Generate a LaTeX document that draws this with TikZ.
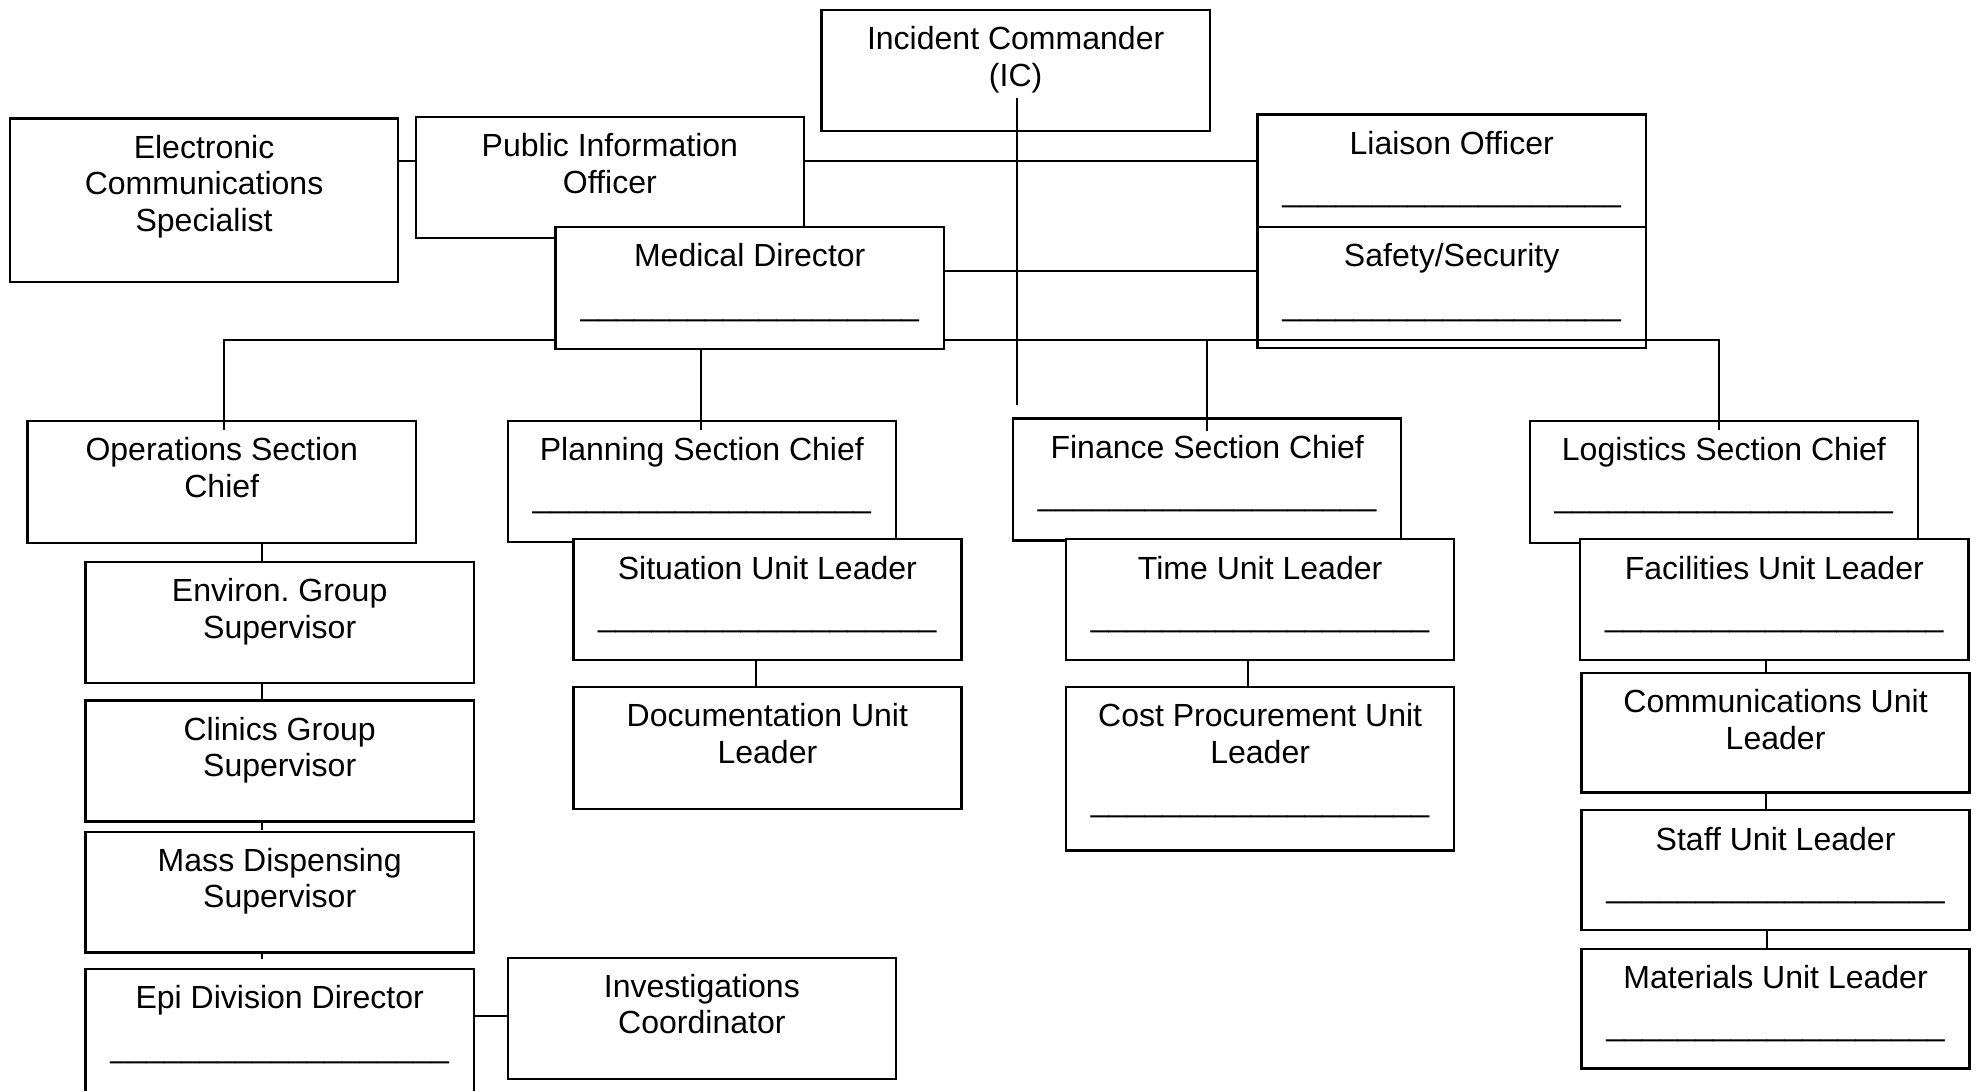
\documentclass[tikz,border=0pt]{standalone}
\usepackage{fontspec}
\setmainfont{Liberation Sans}
\usetikzlibrary{calc}
\frenchspacing

\tikzset{
  orgbox/.style={draw, fill=white, line width=0.9pt, minimum width=147.84pt,
                 inner sep=0pt, anchor=north west},
  wire/.style={line width=0.75pt},
  lbl/.style={anchor=base, inner sep=0pt, font=\fontsize{12.2}{13.9}\selectfont},
}

% blank line for a name to be written in
\newcommand\nameline{\_\_\_\_\_\_\_\_\_\_\_\_\_\_\_\_\_\_\_}

% box with its title set at the top: name, left, top, height, title
\newcommand\orgunit[5]{%
  \node[orgbox, minimum height=#4*0.48pt] (#1) at (#2,#3) {};
  \node[lbl] (#1-t) at ($(#1.north)+(0,32.5)$) {\parbox[t]{145pt}{\centering #5}};
}
% blank name line inside a box: name, offset of its baseline below the top
\newcommand\orgline[2]{%
  \node[lbl] (#1-u) at ($(#1.north)+(0,#2)$) {\nameline};
}

\begin{document}
\begin{tikzpicture}[x=0.48pt, y=-0.48pt]
\useasboundingbox (0,0) rectangle (1568,865);
\clip (0,0) rectangle (1568,865);

% section chiefs
\orgunit{ops}{21}{333}{97}{Operations Section\\Chief}
\orgunit{plan}{402}{333}{96}{Planning Section Chief}
\orgline{plan}{70}
\orgunit{fin}{803}{331}{97}{Finance Section Chief}
\orgline{fin}{70}
\orgunit{log}{1213}{333}{97}{Logistics Section Chief}
\orgline{log}{70}

% planning units
\orgunit{sit}{454}{427}{96}{Situation Unit Leader}
\orgline{sit}{70}
\orgunit{doc}{454}{544}{97}{Documentation Unit\\Leader}

% finance units
\orgunit{time}{845}{427}{96}{Time Unit Leader}
\orgline{time}{70}
\orgunit{cost}{845}{544}{130}{Cost Procurement Unit\\Leader}
\orgline{cost}{100}

% logistics units
\orgunit{fac}{1253}{427}{96}{Facilities Unit Leader}
\orgline{fac}{70}
\orgunit{comm}{1254}{533}{95}{Communications Unit\\Leader}
\orgunit{staff}{1254}{642}{95}{Staff Unit Leader}
\orgline{staff}{70}
\orgunit{mat}{1254}{752}{95}{Materials Unit Leader}
\orgline{mat}{70}

% operations groups
\orgunit{env}{67}{445}{96}{Environ. Group\\Supervisor}
\orgunit{clin}{67}{555}{96}{Clinics Group\\Supervisor}
\orgunit{mass}{67}{659}{96}{Mass Dispensing\\Supervisor}
\orgunit{epi}{67}{768}{110}{Epi Division Director}
\orgline{epi}{71}
\orgunit{inv}{402}{759}{96}{Investigations\\Coordinator}

% command staff
\orgunit{ecs}{7}{93}{130}{Electronic\\Communications\\Specialist}
\orgunit{pio}{329}{92}{96}{Public Information\\Officer}
\orgunit{liai}{997}{90}{89}{Liaison Officer}
\orgline{liai}{70}
\orgunit{safe}{997}{179}{96}{Safety/Security}
\orgline{safe}{71}

% bus to the four sections
\draw[wire] ($(ops.north)+(2,8)$) -- ($(ops.north)+(2,-63)$)
  -| ($(log.north)+(-4,8)$);
\draw[wire] ($(plan.north)+(-1,8)$) -- ($(plan.north)+(-1,-63)$);
\draw[wire] ($(fin.north)+(0,11)$) -- ($(fin.north)+(0,-61)$);

% medical director and incident commander
\orgunit{med}{440}{179}{97}{Medical Director}
\orgline{med}{71}
\orgunit{ic}{651}{7}{96}{Incident Commander\\(IC)}

% staff connectors
\draw[wire] (ecs.east |- 0,128) -- (pio.west |- 0,128);
\draw[wire] (pio.east |- 0,128) -- (liai.west |- 0,128);
\draw[wire] (med.east |- 0,215) -- (safe.west |- 0,215);
\draw[wire] ($(ic.north)+(1,71)$) -- ($(fin.north)+(-151,-10)$);

% chains below the sections
\draw[wire] (ops.south -| 208,0) -- (env.north -| 208,0);
\draw[wire] (env.south -| 208,0) -- (clin.north -| 208,0);
\draw[wire] (clin.south -| 208,0) -- (mass.north -| 208,0);
\draw[wire] (mass.south -| 208,0) -- ++(0,4);
\draw[wire] (epi.east |- 0,806) -- (inv.west |- 0,806);
\draw[wire] (sit.south -| 600,0) -- (doc.north -| 600,0);
\draw[wire] (time.south -| 990,0) -- (cost.north -| 990,0);
\draw[wire] (fac.south -| 1401,0) -- (comm.north -| 1401,0);
\draw[wire] (comm.south -| 1401,0) -- (staff.north -| 1401,0);
\draw[wire] (staff.south -| 1402,0) -- (mat.north -| 1402,0);
\end{tikzpicture}
\end{document}
